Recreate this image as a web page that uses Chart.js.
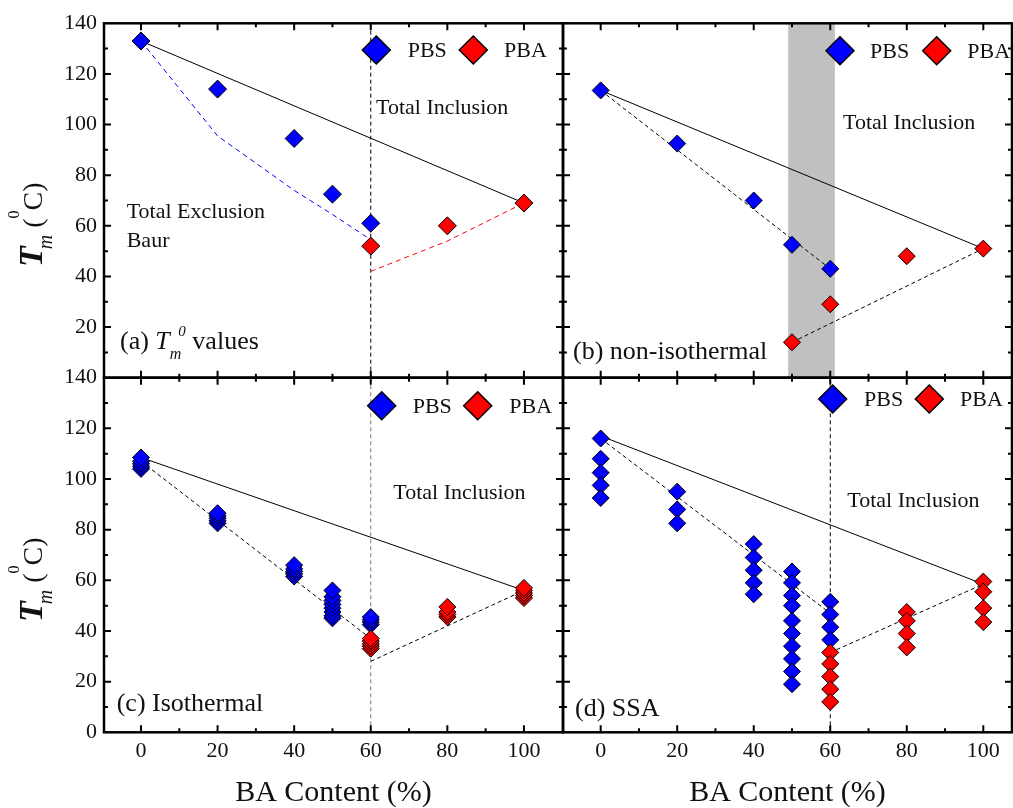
<!DOCTYPE html>
<html><head><meta charset="utf-8">
<script src="https://cdn.jsdelivr.net/npm/chart.js@4.4.1/dist/chart.umd.min.js"></script>
<style>
html,body{margin:0;padding:0;background:#fff;}
#wrap{position:relative;width:1013px;height:808px;overflow:hidden;background:#fff;}
canvas{position:absolute;left:0;top:0;}
</style></head><body>
<div id="wrap">
<canvas id="pa" width="1013" height="808"></canvas>
<canvas id="pb" width="1013" height="808"></canvas>
<canvas id="pc" width="1013" height="808"></canvas>
<canvas id="pd" width="1013" height="808"></canvas>
</div>
<script>
// ---------------- data ----------------
const xTicks = [0, 20, 40, 60, 80, 100];
const yTicks = [0, 20, 40, 60, 80, 100, 120, 140];
const xTitle = 'BA Content (%)';
const seriesNames = ['PBS', 'PBA'];

// (a) Tm0 values
const aPBS_x = [0, 20, 40, 50, 60];
const aPBS_y = [133, 114, 94.5, 72.5, 61];
const aPBA_x = [60, 80, 100];
const aPBA_y = [52, 60, 69];
const aBaurPBS_x = [0, 20, 40, 50, 60];
const aBaurPBS_y = [133, 95.5, 74, 64.5, 54.5];
const aBaurPBA_x = [60, 80, 100];
const aBaurPBA_y = [42, 54, 69];
const aIncl_x = [0, 100];
const aIncl_y = [133, 69];

// (b) non-isothermal
const bPBS_x = [0, 20, 40, 50, 60];
const bPBS_y = [113.5, 92.5, 70, 52.5, 43];
const bPBA_x = [50, 60, 80, 100];
const bPBA_y = [14, 29, 48, 51];
const bIncl_x = [0, 100];
const bIncl_y = [113.5, 51];
const bExclPBS_x = [0, 60];
const bExclPBS_y = [113.5, 43];
const bExclPBA_x = [50, 100];
const bExclPBA_y = [14, 51];
const bBand = [49, 61.2];

// (c) isothermal
const cPBS_x = [0,0,0,0,0, 20,20,20,20,20, 40,40,40,40,40, 50,50,50,50,50,50,50,50, 60,60,60,60];
const cPBS_y = [104,105,106,107,108.5, 82.5,83.5,84.5,85.5,86.5, 61.5,62.5,63.5,64.5,66, 45,46,47.5,49,50.5,52,53.5,56, 42.5,43.5,44.5,45.5];
const cPBA_x = [60,60,60,60,60, 80,80,80,80, 100,100,100,100,100];
const cPBA_y = [33,34,35,36,37, 45.5,46.5,47.5,49.5, 53,54,55,56,57];
const cIncl_x = [0, 100];
const cIncl_y = [108.5, 56];
const cExclPBS_x = [0, 60];
const cExclPBS_y = [107, 37];
const cExclPBA_x = [60, 100];
const cExclPBA_y = [28, 56];

// (d) SSA
const dPBS_x = [0,0,0,0,0, 20,20,20, 40,40,40,40,40, 50,50,50,50,50,50,50,50,50,50, 60,60,60,60];
const dPBS_y = [116,108,102.5,97.5,92.5, 95,88,82.5, 74.3,69,64,59,54.5, 63.5,59,54,50,44,39,34,29,24,19, 51.5,46.5,41.5,36.5];
const dPBA_x = [60,60,60,60,60, 80,80,80,80, 100,100,100,100];
const dPBA_y = [31.5,27,22,17,12, 47.5,44,39,33.5, 59.5,55.5,49,43.5];
const dIncl_x = [0, 100];
const dIncl_y = [117, 58.5];
const dExclPBS_x = [0, 60];
const dExclPBS_y = [116, 47];
const dExclPBA_x = [60, 100];
const dExclPBA_y = [31.5, 58.5];

const vLine_x = [60, 60];
const vLine_y = [0, 140];

// ---------------- layout / style ----------------
const FONT = '"Liberation Serif","Times New Roman",serif';
const W = 1013, H = 808;
const L = 104, M = 563, R = 1012, T = 23.3, MID = 377.7, B = 732.3;
const BLUE = '#0000ff', RED = '#ff0000', INK = '#111';

const pts = (xs, ys) => xs.map((x, i) => ({x: x, y: ys[i]}));

function scatterDS(xs, ys, color, r) {
  return {type: 'scatter', data: pts(xs, ys), pointStyle: 'rectRot', pointRadius: r, pointHoverRadius: r,
    backgroundColor: color, borderColor: '#000', borderWidth: 1, order: 0};
}
function lineDS(xs, ys, color, dash) {
  return {type: 'line', data: pts(xs, ys), showLine: true, pointRadius: 0, borderColor: color,
    borderWidth: 1, borderDash: dash || [], fill: false, tension: 0, order: 5};
}

function diamond(ctx, x, y, r, fill) {
  ctx.beginPath();
  ctx.moveTo(x - r, y); ctx.lineTo(x, y - r); ctx.lineTo(x + r, y); ctx.lineTo(x, y + r);
  ctx.closePath();
  ctx.fillStyle = fill; ctx.fill();
  ctx.lineWidth = 1.5; ctx.strokeStyle = '#000'; ctx.stroke();
}

function richText(ctx, x, y, segs, rotate) {
  ctx.save();
  ctx.translate(x, y);
  if (rotate) ctx.rotate(-Math.PI / 2);
  ctx.textBaseline = 'alphabetic'; ctx.textAlign = 'left'; ctx.fillStyle = INK;
  let cx = 0;
  for (const s of segs) {
    ctx.font = s.f;
    cx += s.dx || 0;
    ctx.fillText(s.t, cx, s.dy || 0);
    cx += ctx.measureText(s.t).width;
  }
  ctx.restore();
}

function yTitleSegs() {
  return [
    {t: 'T', f: 'italic bold 34px ' + FONT},
    {t: 'm', f: 'italic 20px ' + FONT, dy: 10, dx: -3},
    {t: ' (', f: '28px ' + FONT},
    {t: '0', f: '16px ' + FONT, dy: -23},
    {t: 'C)', f: '28px ' + FONT}
  ];
}

function makeDeco(p) {
  return {
    id: 'deco',
    beforeDatasetsDraw(chart) {
      const ctx = chart.ctx, ca = chart.chartArea, xs = chart.scales.x;
      if (p.band) {
        const x1 = xs.getPixelForValue(p.band[0]), x2 = xs.getPixelForValue(p.band[1]);
        ctx.save(); ctx.fillStyle = '#c0c0c0';
        ctx.fillRect(x1, ca.top, x2 - x1, ca.bottom - ca.top);
        ctx.restore();
      }
    },
    afterDraw(chart) {
      const ctx = chart.ctx, ca = chart.chartArea, xs = chart.scales.x, ys = chart.scales.y;
      ctx.save();
      // frame
      ctx.strokeStyle = '#000'; ctx.lineWidth = 2.5;
      ctx.strokeRect(ca.left, ca.top, ca.right - ca.left, ca.bottom - ca.top);
      // inward ticks
      ctx.lineWidth = 2;
      ctx.beginPath();
      for (let v = Math.ceil(xs.min / 10) * 10; v <= xs.max; v += 10) {
        const px = xs.getPixelForValue(v);
        if (px - ca.left < 3 || ca.right - px < 3) continue;
        const len = (v % 20 === 0) ? 7 : 4;
        ctx.moveTo(px, ca.top); ctx.lineTo(px, ca.top + len);
        ctx.moveTo(px, ca.bottom); ctx.lineTo(px, ca.bottom - len);
      }
      for (let v = 10; v < 140; v += 10) {
        const py = ys.getPixelForValue(v);
        const len = (v % 20 === 0) ? 7 : 4;
        ctx.moveTo(ca.left, py); ctx.lineTo(ca.left + len, py);
        ctx.moveTo(ca.right, py); ctx.lineTo(ca.right - len, py);
      }
      ctx.stroke();
      // legend
      const lg = p.legend;
      diamond(ctx, lg.bx, lg.cy, 14, BLUE);
      diamond(ctx, lg.rx, lg.cy, 14, RED);
      ctx.font = '22px ' + FONT; ctx.fillStyle = INK; ctx.textBaseline = 'alphabetic'; ctx.textAlign = 'left';
      ctx.fillText(seriesNames[0], lg.tb, lg.base);
      ctx.fillText(seriesNames[1], lg.tr, lg.base);
      // texts
      for (const t of p.texts) {
        ctx.font = (t.size || 22) + 'px ' + FONT;
        ctx.fillStyle = INK;
        ctx.fillText(t.t, t.x, t.y);
      }
      if (p.rich) richText(ctx, p.rich.x, p.rich.y, p.rich.segs, false);
      if (p.ytitle) richText(ctx, p.ytitle.x, p.ytitle.y, yTitleSegs(), true);
      ctx.restore();
    }
  };
}

function panel(id, p) {
  const isLeft = p.left === L;
  const isBottom = p.bottom === B;
  new Chart(document.getElementById(id), {
    type: 'scatter',
    data: {datasets: p.datasets},
    options: {
      responsive: false, animation: false, devicePixelRatio: 1,
      events: [],
      layout: {autoPadding: false,
        padding: {left: isLeft ? 0 : p.left, top: p.top, right: W - p.right, bottom: isBottom ? 0 : H - p.bottom}},
      plugins: {legend: {display: false}, tooltip: {enabled: false}},
      scales: {
        x: {
          type: 'linear', min: p.xmin, max: p.xmax, display: isBottom,
          grid: {display: false, drawTicks: false}, border: {display: false},
          afterBuildTicks: s => { s.ticks = xTicks.map(v => ({value: v})); },
          afterFit: s => { s.height = isBottom ? H - B : 0; },
          ticks: {font: {family: FONT, size: 22}, color: INK, padding: 6, maxRotation: 0, autoSkip: false,
            callback: v => String(v)},
          title: {display: isBottom, text: xTitle, font: {family: FONT, size: 30, lineHeight: 1}, color: INK, padding: 0}
        },
        y: {
          type: 'linear', min: 0, max: 140, display: isLeft,
          grid: {display: false, drawTicks: false}, border: {display: false},
          afterBuildTicks: s => { s.ticks = yTicks.map(v => ({value: v})); },
          afterFit: s => { s.width = isLeft ? L : 0; },
          ticks: {font: {family: FONT, size: 22}, color: INK, padding: 7, autoSkip: false,
            callback: v => (v === 0 && !isBottom) ? '' : String(v)}
        }
      }
    },
    plugins: [makeDeco(p)]
  });
}

// (a)
panel('pa', {
  left: L, right: M, top: T, bottom: MID, xmin: -9.66, xmax: 110.2,
  datasets: [
    scatterDS(aPBA_x, aPBA_y, RED, 9),
    scatterDS(aPBS_x, aPBS_y, BLUE, 9),
    lineDS(aIncl_x, aIncl_y, '#000'),
    lineDS(aBaurPBS_x, aBaurPBS_y, BLUE, [5, 4]),
    lineDS(aBaurPBA_x, aBaurPBA_y, RED, [5, 4]),
    lineDS(vLine_x, vLine_y, '#000', [4, 3])
  ],
  legend: {bx: 376.3, rx: 473.3, cy: 50, tb: 407.7, tr: 504, base: 57.3},
  texts: [
    {t: 'Total Inclusion', x: 376, y: 114},
    {t: 'Total Exclusion', x: 126.7, y: 218},
    {t: 'Baur', x: 126.7, y: 246.5}
  ],
  rich: {x: 120, y: 349, segs: [
    {t: '(a) ', f: '26px ' + FONT},
    {t: 'T', f: 'italic 26px ' + FONT},
    {t: 'm', f: 'italic 16px ' + FONT, dy: 10},
    {t: '0', f: 'italic 15px ' + FONT, dy: -13, dx: -3},
    {t: ' values', f: '26px ' + FONT}
  ]},
  ytitle: {x: 42, y: 267}
});

// (b)
panel('pb', {
  left: M, right: R, top: T, bottom: MID, xmin: -9.85, xmax: 107.5, band: bBand,
  datasets: [
    scatterDS(bPBA_x, bPBA_y, RED, 8.5),
    scatterDS(bPBS_x, bPBS_y, BLUE, 8.5),
    lineDS(bIncl_x, bIncl_y, '#000'),
    lineDS(bExclPBS_x, bExclPBS_y, '#000', [4, 3]),
    lineDS(bExclPBA_x, bExclPBA_y, '#000', [4, 3])
  ],
  legend: {bx: 840, rx: 936.7, cy: 50.7, tb: 870, tr: 967.3, base: 58.3},
  texts: [
    {t: 'Total Inclusion', x: 843, y: 129},
    {t: '(b) non-isothermal', x: 573, y: 358.5, size: 26}
  ]
});

// (c)
panel('pc', {
  left: L, right: M, top: MID, bottom: B, xmin: -9.66, xmax: 110.2,
  datasets: [
    scatterDS(cPBA_x, cPBA_y, RED, 8.5),
    scatterDS(cPBS_x, cPBS_y, BLUE, 8.5),
    lineDS(cIncl_x, cIncl_y, '#000'),
    lineDS(cExclPBS_x, cExclPBS_y, '#000', [4, 3]),
    lineDS(cExclPBA_x, cExclPBA_y, '#000', [4, 3]),
    lineDS(vLine_x, vLine_y, '#777', [4, 3])
  ],
  legend: {bx: 381.7, rx: 477.7, cy: 405.7, tb: 412.7, tr: 509.3, base: 413},
  texts: [
    {t: 'Total Inclusion', x: 393.3, y: 499},
    {t: '(c) Isothermal', x: 116.7, y: 711, size: 26}
  ],
  ytitle: {x: 42, y: 622}
});

// (d)
panel('pd', {
  left: M, right: R, top: MID, bottom: B, xmin: -9.85, xmax: 107.5,
  datasets: [
    scatterDS(dPBA_x, dPBA_y, RED, 8.5),
    scatterDS(dPBS_x, dPBS_y, BLUE, 8.5),
    lineDS(dIncl_x, dIncl_y, '#000'),
    lineDS(dExclPBS_x, dExclPBS_y, '#000', [4, 3]),
    lineDS(dExclPBA_x, dExclPBA_y, '#000', [4, 3]),
    lineDS(vLine_x, vLine_y, '#000', [4, 3])
  ],
  legend: {bx: 832.7, rx: 929.3, cy: 399, tb: 864, tr: 960, base: 406.3},
  texts: [
    {t: 'Total Inclusion', x: 847.3, y: 507},
    {t: '(d) SSA', x: 575, y: 716, size: 26}
  ]
});
</script>
</body></html>
